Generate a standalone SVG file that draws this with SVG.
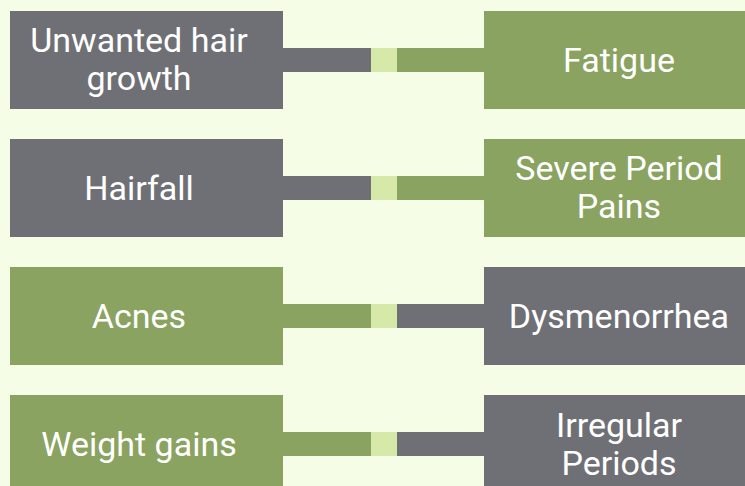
<svg xmlns="http://www.w3.org/2000/svg" width="745" height="486" viewBox="0 0 745 486">
<style>
.g{fill:#6f7075}
.v{fill:#8aa360}
.sq{fill:#d7e9a8}
text{font-family:Roboto,"Liberation Sans",sans-serif;font-size:34px;fill:#ffffff;text-anchor:middle}
</style>
<rect x="0" y="0" width="745" height="486" fill="#f5fde7"/>
<g id="connectors">
<rect class="g" x="283" y="48" width="88" height="24"/>
<rect class="sq" x="371" y="48" width="26" height="24"/>
<rect class="v" x="397" y="48" width="87" height="24"/>
<rect class="g" x="283" y="176" width="88" height="24"/>
<rect class="sq" x="371" y="176" width="26" height="24"/>
<rect class="v" x="397" y="176" width="87" height="24"/>
<rect class="v" x="283" y="304" width="88" height="24"/>
<rect class="sq" x="371" y="304" width="26" height="24"/>
<rect class="g" x="397" y="304" width="87" height="24"/>
<rect class="v" x="283" y="432" width="88" height="24"/>
<rect class="sq" x="371" y="432" width="26" height="24"/>
<rect class="g" x="397" y="432" width="87" height="24"/>
</g>
<g id="n1"><rect class="g" x="10" y="11" width="273" height="98"/><text x="139" y="52">Unwanted hair</text><text x="139" y="90">growth</text></g>
<g id="n2"><rect class="g" x="10" y="139" width="273" height="98"/><text x="139" y="200">Hairfall</text></g>
<g id="n3"><rect class="v" x="10" y="267" width="273" height="98"/><text x="139" y="328">Acnes</text></g>
<g id="n4"><rect class="v" x="10" y="395" width="273" height="98"/><text x="139" y="456">Weight gains</text></g>
<g id="n5"><rect class="v" x="484" y="11" width="273" height="98"/><text x="619" y="72">Fatigue</text></g>
<g id="n6"><rect class="v" x="484" y="139" width="273" height="98"/><text x="619" y="180">Severe Period</text><text x="619" y="218">Pains</text></g>
<g id="n7"><rect class="g" x="484" y="267" width="273" height="98"/><text x="619" y="328">Dysmenorrhea</text></g>
<g id="n8"><rect class="g" x="484" y="395" width="273" height="98"/><text x="619" y="437">Irregular</text><text x="619" y="475">Periods</text></g>
</svg>
